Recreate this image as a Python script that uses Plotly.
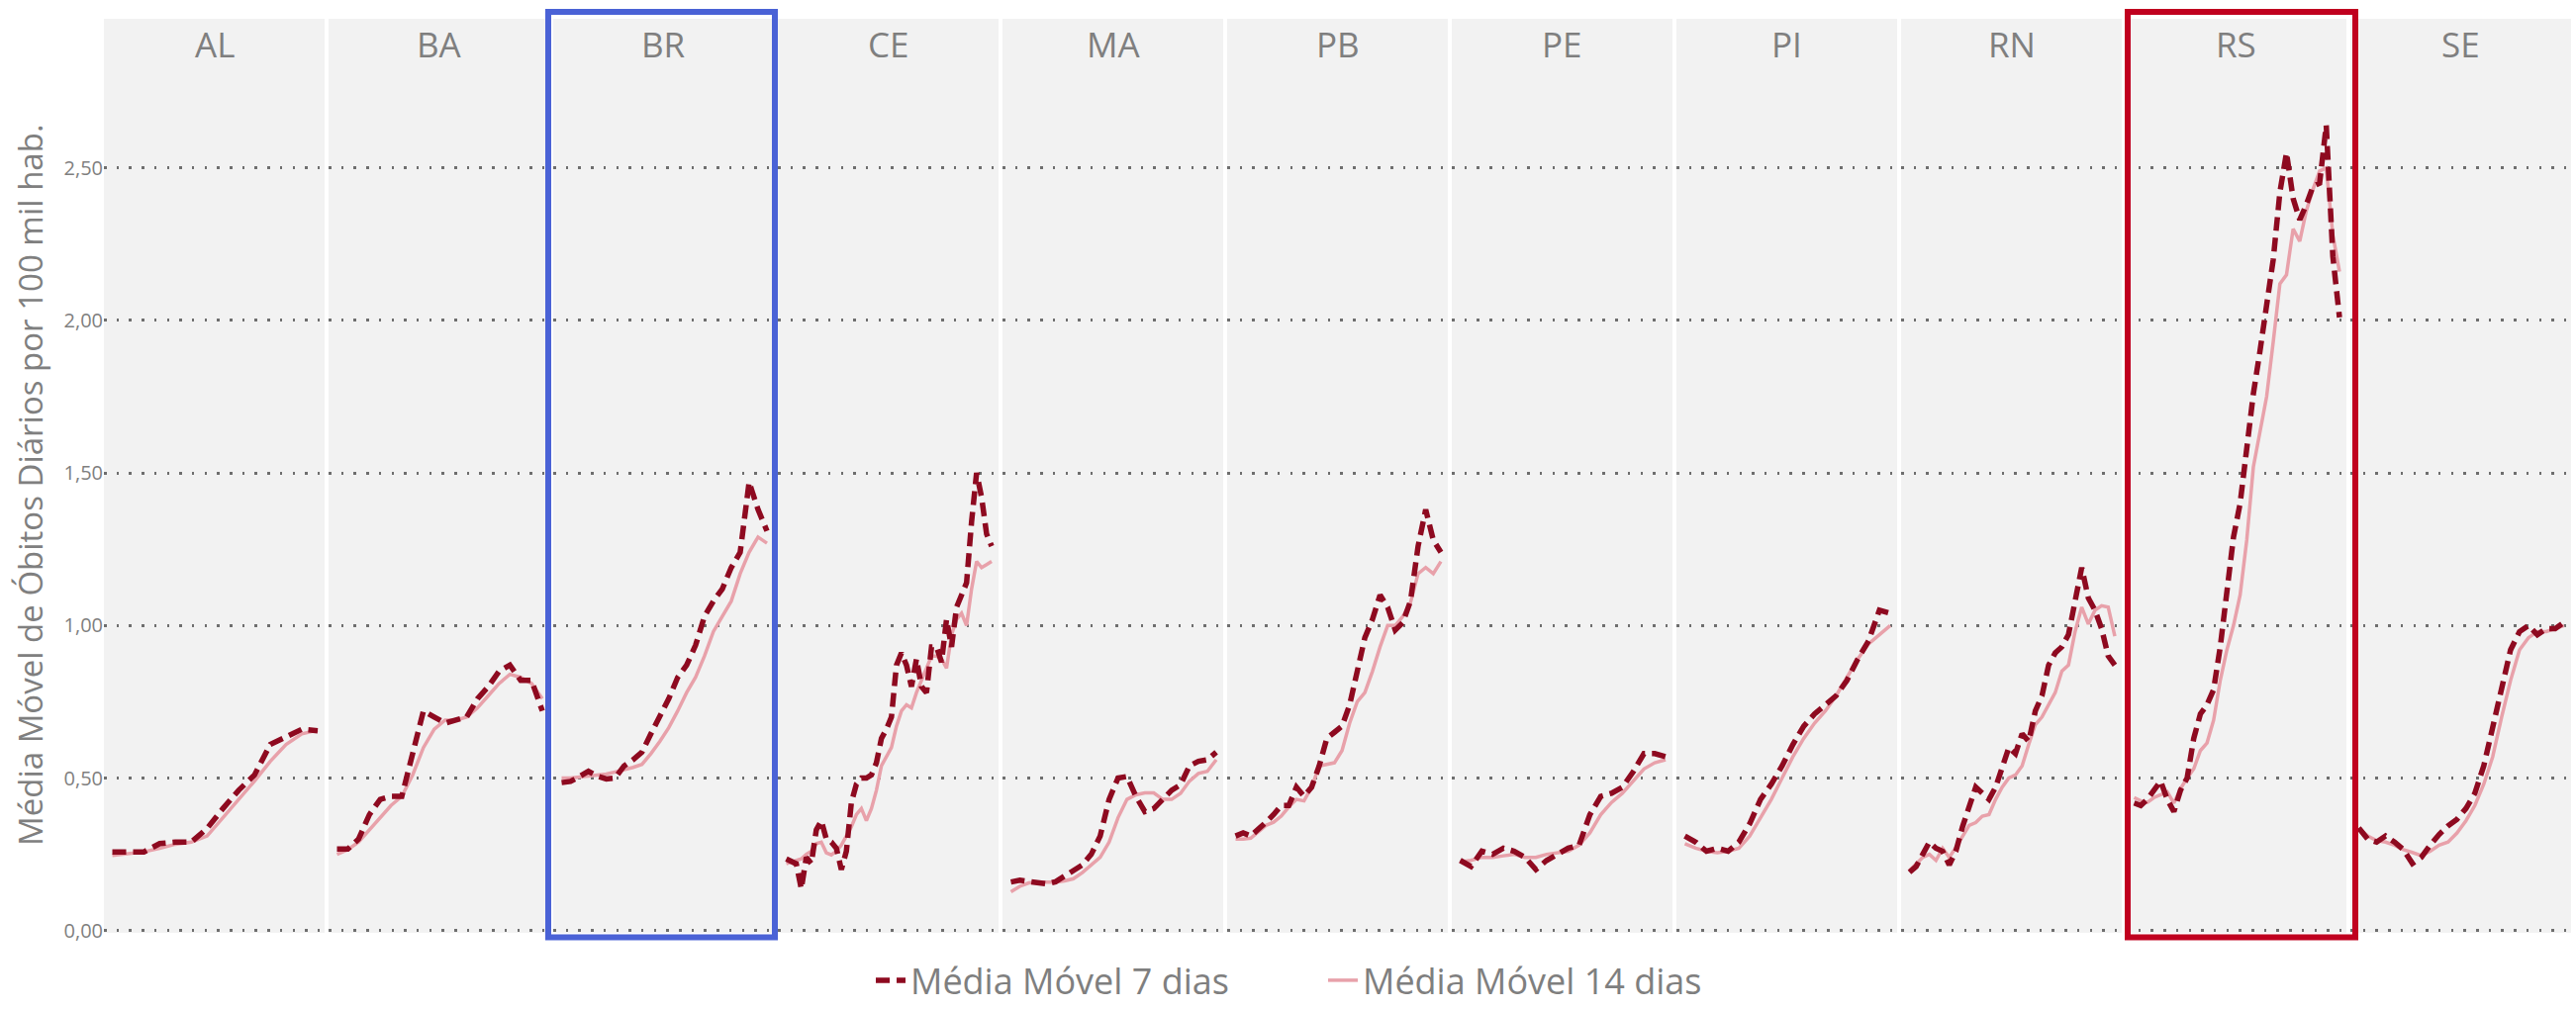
import plotly.graph_objects as go
from plotly.subplots import make_subplots

# ---------------- data ----------------
estados = ["AL", "BA", "BR", "CE", "MA", "PB", "PE", "PI", "RN", "RS", "SE"]
tick_vals = [0, 0.5, 1.0, 1.5, 2.0, 2.5]
tick_text = ["0,00", "0,50", "1,00", "1,50", "2,00", "2,50"]

AL_7 = [0.258, 0.258, 0.258, 0.285, 0.29, 0.29, 0.335, 0.40, 0.46, 0.51, 0.61, 0.635, 0.66, 0.655]
AL_14 = [0.246, 0.252, 0.258, 0.27, 0.283, 0.29, 0.31, 0.37, 0.43, 0.49, 0.555, 0.61, 0.645, 0.657]

BA_7 = [0.267, 0.267, 0.30, 0.38, 0.43, 0.44, 0.44, 0.58, 0.72, 0.70, 0.68, 0.69, 0.70, 0.76, 0.80, 0.85, 0.87, 0.82, 0.82, 0.72]
BA_14 = [0.25, 0.265, 0.29, 0.33, 0.37, 0.41, 0.44, 0.51, 0.60, 0.66, 0.69, 0.69, 0.70, 0.73, 0.77, 0.81, 0.84, 0.83, 0.81, 0.76]

BR_7 = [0.485, 0.489, 0.505, 0.522, 0.506, 0.497, 0.50, 0.54, 0.56, 0.585, 0.645, 0.70, 0.76, 0.83, 0.87, 0.935, 1.03, 1.08, 1.12, 1.19, 1.24, 1.47, 1.38, 1.31]
BR_14 = [0.50, 0.50, 0.503, 0.506, 0.51, 0.513, 0.52, 0.527, 0.535, 0.545, 0.58, 0.62, 0.665, 0.72, 0.78, 0.83, 0.90, 0.98, 1.03, 1.08, 1.17, 1.24, 1.29, 1.27]

CE_7 = [0.235, 0.225, 0.219, 0.137, 0.24, 0.22, 0.33, 0.36, 0.30, 0.29, 0.27, 0.20, 0.26, 0.42,
        0.48, 0.50, 0.50, 0.51, 0.55, 0.63, 0.66, 0.70, 0.87, 0.91, 0.87, 0.80, 0.89, 0.80,
        0.78, 0.93, 0.93, 0.88, 1.02, 0.93, 1.06, 1.10, 1.14, 1.34, 1.50, 1.42, 1.30, 1.26]
CE_14 = [0.219, 0.225, 0.23, 0.235, 0.25, 0.26, 0.285, 0.29, 0.255, 0.248, 0.26, 0.28, 0.31, 0.34,
         0.38, 0.40, 0.36, 0.40, 0.46, 0.54, 0.57, 0.60, 0.67, 0.72, 0.74, 0.73, 0.78, 0.82,
         0.86, 0.90, 0.90, 0.89, 0.86, 0.97, 1.02, 1.04, 1.00, 1.12, 1.21, 1.19, 1.20, 1.21]

MA_7 = [0.159, 0.165, 0.161, 0.155, 0.153, 0.16, 0.18, 0.195, 0.215, 0.25, 0.31, 0.43, 0.50, 0.505, 0.44, 0.39, 0.40, 0.43, 0.46, 0.478, 0.54, 0.555, 0.56, 0.585]
MA_14 = [0.127, 0.145, 0.156, 0.159, 0.159, 0.159, 0.163, 0.17, 0.19, 0.215, 0.24, 0.29, 0.37, 0.43, 0.445, 0.451, 0.451, 0.43, 0.43, 0.45, 0.49, 0.515, 0.522, 0.56]

PB_7 = [0.31, 0.32, 0.31, 0.33, 0.355, 0.38, 0.41, 0.41, 0.47, 0.44, 0.47, 0.54, 0.63, 0.65, 0.67, 0.74, 0.86, 0.96, 1.02, 1.10, 1.06, 0.985, 1.01, 1.08, 1.26, 1.38, 1.28, 1.24]
PB_14 = [0.30, 0.30, 0.303, 0.325, 0.345, 0.355, 0.375, 0.405, 0.43, 0.425, 0.47, 0.54, 0.545, 0.55, 0.59, 0.68, 0.75, 0.78, 0.85, 0.93, 1.00, 1.0, 1.03, 1.075, 1.17, 1.19, 1.17, 1.21]

PE_7 = [0.23, 0.21, 0.26, 0.25, 0.27, 0.26, 0.24, 0.20, 0.23, 0.25, 0.27, 0.28, 0.38, 0.44, 0.45, 0.47, 0.52, 0.58, 0.58, 0.57]
PE_14 = [0.225, 0.23, 0.24, 0.24, 0.245, 0.25, 0.24, 0.24, 0.25, 0.255, 0.26, 0.28, 0.32, 0.38, 0.42, 0.45, 0.49, 0.53, 0.55, 0.56]

PI_7 = [0.31, 0.29, 0.26, 0.27, 0.26, 0.29, 0.35, 0.43, 0.48, 0.54, 0.61, 0.67, 0.71, 0.74, 0.77, 0.82, 0.89, 0.95, 1.05, 1.04]
PI_14 = [0.285, 0.27, 0.26, 0.255, 0.26, 0.27, 0.31, 0.37, 0.43, 0.50, 0.57, 0.63, 0.68, 0.72, 0.77, 0.83, 0.89, 0.94, 0.97, 1.0]

RN_7 = [0.191, 0.21, 0.25, 0.29, 0.27, 0.26, 0.215, 0.26, 0.34, 0.40, 0.47, 0.45, 0.43, 0.47, 0.53, 0.60,
        0.58, 0.645, 0.62, 0.72, 0.77, 0.87, 0.91, 0.93, 0.97, 1.08, 1.19, 1.09, 1.05, 0.99, 0.90, 0.87]
RN_14 = [0.197, 0.22, 0.24, 0.25, 0.23, 0.27, 0.24, 0.272, 0.31, 0.345, 0.354, 0.375, 0.38, 0.43, 0.47, 0.50,
         0.51, 0.54, 0.61, 0.675, 0.70, 0.74, 0.78, 0.85, 0.87, 0.98, 1.06, 1.005, 1.05, 1.065, 1.06, 0.965]

RS_7 = [0.418, 0.41, 0.43, 0.46, 0.49, 0.43, 0.39, 0.46, 0.50, 0.63, 0.71, 0.74, 0.79, 0.93, 1.12, 1.29,
        1.40, 1.58, 1.76, 1.90, 2.05, 2.20, 2.42, 2.55, 2.40, 2.33, 2.38, 2.44, 2.45, 2.64, 2.21, 2.01]
RS_14 = [0.436, 0.425, 0.42, 0.436, 0.445, 0.455, 0.418, 0.465, 0.50, 0.53, 0.59, 0.615, 0.69, 0.82, 0.92, 1.00,
         1.10, 1.28, 1.52, 1.64, 1.75, 1.93, 2.12, 2.15, 2.30, 2.26, 2.36, 2.43, 2.49, 2.50, 2.28, 2.16]

SE_7 = [0.336, 0.30, 0.29, 0.31, 0.29, 0.265, 0.22, 0.24, 0.28, 0.315, 0.343, 0.365, 0.40, 0.45, 0.54, 0.67, 0.81, 0.92, 0.98, 1.00, 0.97, 0.99, 0.99, 1.01]
SE_14 = [0.336, 0.31, 0.295, 0.29, 0.28, 0.265, 0.256, 0.246, 0.26, 0.28, 0.29, 0.32, 0.36, 0.41, 0.48, 0.57, 0.70, 0.82, 0.92, 0.96, 0.98, 0.98, 0.99, 1.00]

series = {
    "AL": (AL_7, AL_14), "BA": (BA_7, BA_14), "BR": (BR_7, BR_14), "CE": (CE_7, CE_14),
    "MA": (MA_7, MA_14), "PB": (PB_7, PB_14), "PE": (PE_7, PE_14), "PI": (PI_7, PI_14),
    "RN": (RN_7, RN_14), "RS": (RS_7, RS_14), "SE": (SE_7, SE_14),
}

# ---------------- layout constants ----------------
W, H = 2603, 1021
ML, MR, MT, MB = 105, 5, 19, 78
PW = W - ML - MR
PH = H - MT - MB
RED = "#8E0A20"
PINK = "#E8A1AA"
GRAY = "#7f7f7f"
FONT = "Open Sans"


def px_x(p):
    return (p - ML) / PW


def px_y(p):
    return (H - MB - p) / PH


fig = make_subplots(rows=1, cols=len(estados), shared_yaxes=True,
                    horizontal_spacing=4 / PW)

for i, uf in enumerate(estados):
    v7, v14 = series[uf]
    n = len(v7)
    x = list(range(n))
    fig.add_trace(go.Scatter(
        x=x, y=v14, mode="lines", name="Média Móvel 14 dias",
        line=dict(color=PINK, width=3.5), legendgroup="m14",
        showlegend=(i == 0), legendrank=2, hoverinfo="skip"), row=1, col=i + 1)
    fig.add_trace(go.Scatter(
        x=x, y=v7, mode="lines", name="Média Móvel 7 dias",
        line=dict(color=RED, width=5.5, dash="14px,7px"), legendgroup="m7",
        showlegend=(i == 0), legendrank=1, hoverinfo="skip"), row=1, col=i + 1)
    fig.update_xaxes(range=[-0.041 * (n - 1), 1.0337 * (n - 1)], showgrid=False,
                     zeroline=False, showticklabels=False, showline=False,
                     ticks="", row=1, col=i + 1)
    xref = "x domain" if i == 0 else f"x{i + 1} domain"
    fig.add_annotation(text=uf, xref=xref, x=0.5, yref="paper", y=px_y(44),
                       xanchor="center", yanchor="middle", showarrow=False,
                       font=dict(family=FONT, size=35, color=GRAY))

fig.update_yaxes(range=[-0.0075, 2.989], tickvals=tick_vals, ticktext=tick_text,
                 showgrid=True, gridcolor="#6e6e6e", gridwidth=2.5,
                 griddash="2.5px,10.2px", zeroline=False, showline=False, ticks="",
                 tickfont=dict(family=FONT, size=20, color=GRAY))

# highlight boxes
for (l, r, col) in [(554, 783, "#4A62D6"), (2150, 2380, "#C0001F")]:
    fig.add_shape(type="rect", xref="paper", yref="paper",
                  x0=px_x(l), x1=px_x(r), y0=px_y(947.5), y1=px_y(12),
                  line=dict(color=col, width=6), fillcolor="rgba(0,0,0,0)", layer="above")

fig.add_annotation(text="Média Móvel de Óbitos Diários por 100 mil hab.",
                   xref="paper", yref="paper", x=px_x(30), y=px_y(490), textangle=-90,
                   xanchor="center", yanchor="middle", showarrow=False,
                   font=dict(family=FONT, size=33, color=GRAY))

fig.update_layout(
    width=W, height=H, autosize=False,
    margin=dict(l=ML, r=MR, t=MT, b=MB, pad=0, autoexpand=False),
    paper_bgcolor="white", plot_bgcolor="#F2F2F2",
    separators=",.",
    showlegend=True,
    legend=dict(orientation="h", x=px_x(880), xanchor="left",
                y=px_y(991), yanchor="middle",
                font=dict(family=FONT, size=36, color=GRAY),
                bgcolor="rgba(0,0,0,0)", itemwidth=30,
                entrywidth=412, entrywidthmode="pixels"),
    font=dict(family=FONT, color=GRAY),
)

fig.write_html("out.html", config={"displayModeBar": False},
               post_script="document.body.style.margin='0';")
